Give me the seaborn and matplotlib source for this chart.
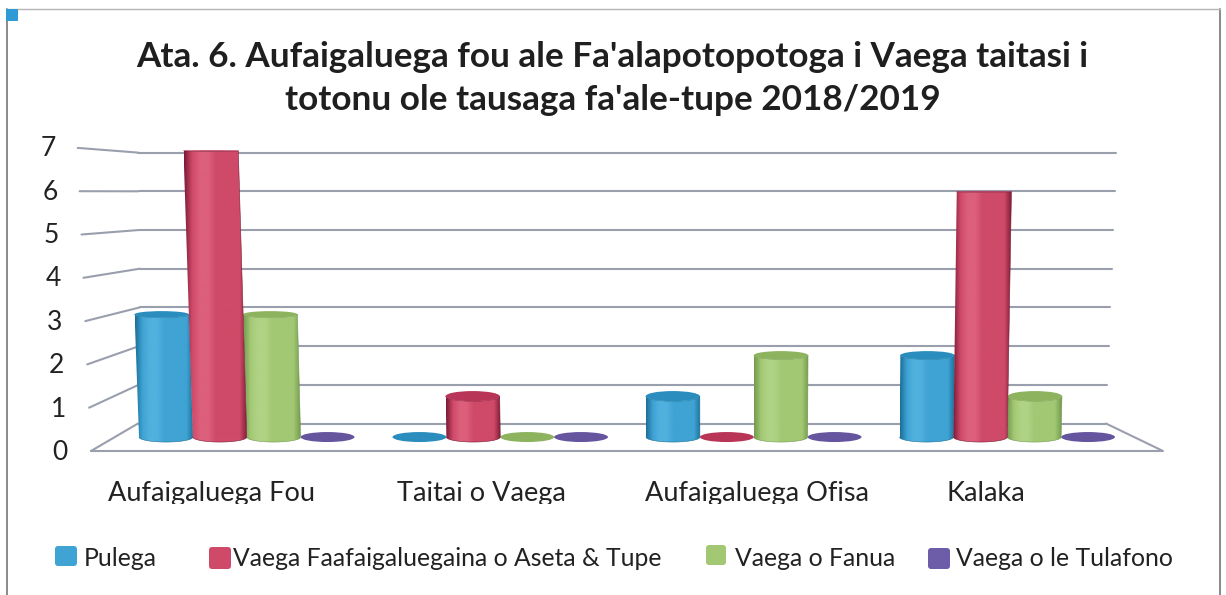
# plot.py
import numpy as np
import pandas as pd
import matplotlib
matplotlib.use("Agg")
import matplotlib.pyplot as plt
import seaborn as sns
from matplotlib.patches import Ellipse, FancyBboxPatch, PathPatch
from matplotlib.path import Path
from matplotlib.transforms import Bbox

categories = ["Aufaigaluega Fou", "Taitai o Vaega", "Aufaigaluega Ofisa", "Kalaka"]
series = ["Pulega", "Vaega Faafaigaluegaina o Aseta & Tupe", "Vaega o Fanua", "Vaega o le Tulafono"]
pulega = [3, 0, 1, 2]
aseta_tupe = [7, 1, 0, 6]
fanua = [3, 0, 2, 1]
tulafono = [0, 0, 0, 0]
value_ticks = [0, 1, 2, 3, 4, 5, 6, 7]
title_lines = ["Ata. 6. Aufaigaluega fou ale Fa'alapotopotoga i Vaega taitasi i",
               "totonu ole tausaga fa'ale-tupe 2018/2019"]

WIDTH, HEIGHT = 1226, 595
# shades per series: dark edge, body, highlight, cap
shades = {
    series[0]: ("#1b6f98", "#3fa3d4", "#50b1de", "#2a8dbd"),
    series[1]: ("#7a1a36", "#cf4a68", "#dc5f7b", "#b93557"),
    series[2]: ("#739a4e", "#a2c874", "#afd384", "#8db35f"),
    series[3]: ("#453680", "#6d5ca8", "#7a6ab5", "#65559f"),
}
legend_swatches = {series[0]: (55, 546, 22, 20), series[1]: (209, 547, 22, 22),
                   series[2]: (706, 545, 20, 20), series[3]: (928, 548, 22, 21)}
legend_text_x = {series[0]: 84, series[1]: 233, series[2]: 735, series[3]: 956}
category_text_x = [212, 481, 757, 986]

sns.set_theme(style="white")
plt.rcParams["font.family"] = ["Lato", "DejaVu Sans"]

fig = plt.figure(figsize=(WIDTH / 100, HEIGHT / 100), dpi=100)

# pixel space layer for frame, walls and text
bg = fig.add_axes([0, 0, 1, 1])
bg.set_xlim(0, WIDTH)
bg.set_ylim(HEIGHT, 0)
bg.axis("off")

frame_c = "#8a8a8a"
bg.plot([7, 7], [9, 595], color=frame_c, lw=1.4)
bg.plot([1220, 1220], [9, 595], color=frame_c, lw=1.4)
bg.plot([7, 1220], [9, 9], color="#b5b5b5", lw=1)
bg.add_patch(FancyBboxPatch((7, 10), 10, 10, boxstyle="round,pad=1", fc="#2f9bd6", ec="none", zorder=3))

grid_c = "#9a9fae"
for v in value_ticks:
    wall_y = 423.5 - 38.7 * v
    front_y = 451 - 43.3 * v
    left = 138 + (0.6 * v if v <= 3 else 0.6 * (7 - v))
    right = 1106 + 1.43 * v
    bg.plot([91 - 1.9 * v, left], [front_y, wall_y], color=grid_c, lw=1.5, solid_capstyle="round")
    bg.plot([left, right], [wall_y, wall_y], color=grid_c, lw=1.5)
    bg.text(60 - 1.7 * v, 452.5 - 43.4 * v, str(v), fontsize=19, color="#222222", ha="center", va="center")
bg.plot([91, 1163, 1106], [451, 451, 423.5], color=grid_c, lw=1.5)

for i, line in enumerate(title_lines):
    bg.text(612.5, 57 + 43 * i, line, fontsize=25.3, fontweight="bold", color="#1f1f1f", ha="center", va="center")

clip = Bbox([[0, HEIGHT - 504], [WIDTH, HEIGHT]])
for name, x in zip(categories, category_text_x):
    t = bg.text(x, 493.5, name, fontsize=19.5, color="#222222", ha="center", va="center")
    t.set_clip_box(clip)
    t.set_clip_on(True)

for name in series:
    x, y, w, h = legend_swatches[name]
    bg.add_patch(FancyBboxPatch((x + 3, y + 3), w - 6, h - 6, boxstyle="round,pad=3",
                                fc=shades[name][1], ec="none"))
    bg.text(legend_text_x[name], 558, name, fontsize=17.8, color="#222222", va="center")

# bars go on their own axes, 41 px per unit above the floor
ax = fig.add_axes([120 / WIDTH, (HEIGHT - 453.4) / HEIGHT, 1014 / WIDTH, 323.1 / HEIGHT])
ax.patch.set_alpha(0)

df = pd.DataFrame({
    "category": categories * 4,
    "series": np.repeat(series, 4),
    "value": pulega + aseta_tupe + fanua + tulafono,
})
sns.barplot(data=df, x="category", y="value", hue="series", order=categories, hue_order=series,
            width=0.85, gap=0, legend=False, errorbar=None, ax=ax)
ax.set_xlim(-0.5, 3.5)
ax.set_ylim(-0.4, 7.5)
ax.axis("off")

Y_UNIT = 40.9
CENTRE = 1.9


def spread(x, v):
    # tall bars lean away from the chart centre
    return x + (x - CENTRE) * v * 0.0025


def draw_cylinder(x0, w, v, name, z):
    dark, body, light, cap = shades[name]
    rx, base_ry = w / 2, 5 / Y_UNIT
    if v == 0:
        ax.add_patch(Ellipse((x0 + rx, 0), w, 2 * base_ry, fc=cap, ec="none", zorder=z))
        return
    top_l, top_r = spread(x0, v), spread(x0 + w, v)
    top_ry = max(0.5, 6 * (1 - v / 6.5)) / Y_UNIT
    t = np.linspace(np.pi, 2 * np.pi, 40)
    bottom_x = x0 + rx + rx * np.cos(t)
    bottom_y = base_ry * np.sin(t)
    top_cx = (top_l + top_r) / 2
    top_x = top_cx + (top_r - top_l) / 2 * np.cos(t[::-1])
    top_y = v + top_ry * np.sin(t[::-1])
    verts = np.column_stack([np.r_[bottom_x, top_x], np.r_[bottom_y, top_y]])
    shape = PathPatch(Path(np.vstack([verts, verts[:1]]), closed=True), transform=ax.transData,
                      fc="none", ec="none", zorder=z)
    ax.add_patch(shape)
    cmap = sns.blend_palette([dark, body, light, light, body, body, body, body, dark], as_cmap=True)
    img = ax.imshow(np.linspace(0, 1, 128)[None, :], extent=[min(x0, top_l), max(x0 + w, top_r), -1, v + 1],
                    cmap=cmap, aspect="auto", zorder=z, interpolation="bilinear")
    img.set_clip_path(shape)
    ax.plot(verts[:, 0], verts[:, 1], color=dark, lw=0.4, zorder=z)
    ax.add_patch(Ellipse((top_cx, v), top_r - top_l, 2 * top_ry, fc=cap, ec="none", zorder=z))


draw_order = {series[0]: 2, series[1]: 4, series[2]: 3, series[3]: 1}
for name, container in zip(series, ax.containers):
    for bar in container:
        bar.set_visible(False)
        draw_cylinder(bar.get_x(), bar.get_width(), bar.get_height(), name, draw_order[name])

ax.set_xlim(-0.5, 3.5)
ax.set_ylim(-0.4, 7.5)

plt.savefig("out.png", dpi=100)
plt.close()
